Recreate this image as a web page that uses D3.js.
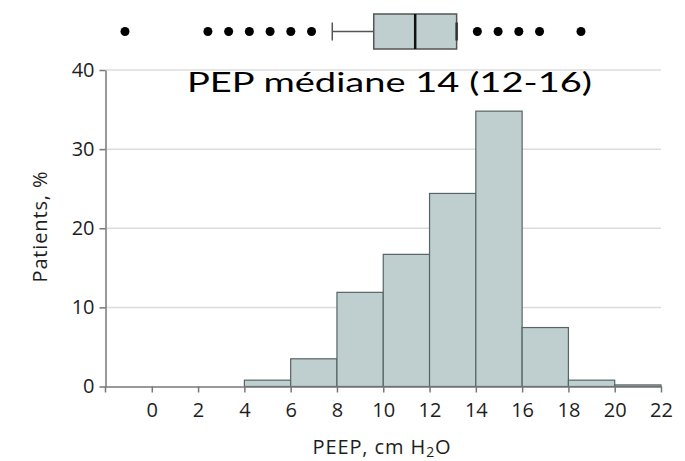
<!DOCTYPE html>
<html>
<head>
<meta charset="utf-8">
<script src="https://cdn.jsdelivr.net/npm/d3@7"></script>
<style>
  body { margin: 0; background: #fff; }
  svg { display: block; font-family: "Open Sans", sans-serif; }
</style>
</head>
<body>
<div id="chart"></div>
<script>
// histogram bins (PEEP, cm H2O) and percentage of patients
var binStarts = [4, 6, 8, 10, 12, 14, 16, 18, 20];
var binWidth = 2;
var percents = [0.8, 3.5, 11.9, 16.7, 24.4, 34.8, 7.45, 0.8, 0.2];
var xTicks = [0, 2, 4, 6, 8, 10, 12, 14, 16, 18, 20, 22];
var yTicks = [0, 10, 20, 30, 40];

// box plot summary drawn above the chart
var boxLow = 10, boxQ1 = 12, boxMedian = 14, boxQ3 = 16, boxHigh = 16;
var outliers = [0, 4, 5, 6, 7, 8, 9, 17, 18, 19, 20, 22];

var title = "PEP médiane 14 (12-16)";

var width = 685, height = 461;

var svg = d3.select("#chart")
  .append("svg")
    .attr("width", width)
    .attr("height", height);

var x = d3.scaleLinear()
    .domain([-2, 22])
    .range([105.5, 661]);

var y = d3.scaleLinear()
    .domain([0, 40])
    .range([386.5, 70]);

// grid
svg.append("g")
    .attr("class", "grid")
  .selectAll("line")
    .data(yTicks.filter(d => d > 0))
  .enter().append("line")
    .attr("x1", x(-2))
    .attr("x2", x(22))
    .attr("y1", d => y(d))
    .attr("y2", d => y(d))
    .style("stroke", "#dcdcdc")
    .style("stroke-width", 1.5);

// bars
svg.append("g")
    .attr("class", "bars")
  .selectAll("rect")
    .data(binStarts)
  .enter().append("rect")
    .attr("x", d => x(d))
    .attr("width", d => x(d + binWidth) - x(d))
    .attr("y", (d, i) => y(percents[i]))
    .attr("height", (d, i) => y(0) - y(percents[i]))
    .style("fill", "#bfcfcf")
    .style("stroke", "#566463")
    .style("stroke-width", 1.2);

// axes
svg.append("g")
    .attr("class", "axis axis-x")
    .attr("transform", `translate(0,${y(0)})`)
    .call(d3.axisBottom(x).tickValues(xTicks).tickSize(6).tickPadding(10).tickSizeOuter(0));

var yAxis = svg.append("g")
    .attr("class", "axis axis-y")
    .attr("transform", `translate(${x(-2)},0)`)
    .call(d3.axisLeft(y).tickValues(yTicks).tickSize(6).tickPadding(5).tickSizeOuter(0));

// y axis runs a little below zero
yAxis.append("line")
    .attr("y1", y(0))
    .attr("y2", y(0) + 6);

svg.selectAll(".axis path, .axis line")
    .style("stroke", "#777")
    .style("stroke-width", 1.5);
svg.selectAll(".axis text")
    .style("font-family", "'Open Sans', sans-serif")
    .style("font-size", "20px")
    .style("fill", "#1e1e1e");

// axis titles
svg.append("text")
    .attr("transform", `translate(47,227) rotate(-90)`)
    .attr("text-anchor", "middle")
    .attr("textLength", 111)
    .style("font-size", "20px")
    .style("fill", "#1e1e1e")
    .text("Patients, %");

var xt = svg.append("text")
    .attr("x", 382)
    .attr("y", 454)
    .attr("text-anchor", "middle")
    .style("font-size", "20px")
    .style("letter-spacing", "0.9px")
    .style("fill", "#1e1e1e");
xt.append("tspan").text("PEEP, cm H");
xt.append("tspan").attr("dy", 3).style("font-size", "14px").text("2");
xt.append("tspan").attr("dy", -3).text("O");

// title
svg.append("text")
    .attr("x", 187)
    .attr("y", 92)
    .attr("textLength", 405)
    .attr("lengthAdjust", "spacingAndGlyphs")
    .style("font-family", "Lato, sans-serif")
    .style("font-size", "27px")
    .style("fill", "#000")
    .text(title);

// box plot on its own scale
var bx = d3.scaleLinear()
    .domain([0, 22])
    .range([125, 581]);
var by = 31.5, boxH = 35;

var box = svg.append("g").attr("class", "boxplot");

box.append("line")
    .attr("x1", bx(boxLow))
    .attr("x2", bx(boxQ1))
    .attr("y1", by)
    .attr("y2", by)
    .style("stroke", "#555")
    .style("stroke-width", 1.5);

box.append("line")
    .attr("x1", bx(boxLow))
    .attr("x2", bx(boxLow))
    .attr("y1", by - 9)
    .attr("y2", by + 9)
    .style("stroke", "#555")
    .style("stroke-width", 1.5);

box.append("rect")
    .attr("x", bx(boxQ1))
    .attr("width", bx(boxQ3) - bx(boxQ1))
    .attr("y", by - boxH / 2)
    .attr("height", boxH)
    .style("fill", "#bfcfcf")
    .style("stroke", "#555")
    .style("stroke-width", 1.5);

box.append("line")
    .attr("x1", bx(boxHigh))
    .attr("x2", bx(boxHigh))
    .attr("y1", by - 9)
    .attr("y2", by + 9)
    .style("stroke", "#333")
    .style("stroke-width", 2.5);

box.append("line")
    .attr("x1", bx(boxMedian))
    .attr("x2", bx(boxMedian))
    .attr("y1", by - boxH / 2)
    .attr("y2", by + boxH / 2)
    .style("stroke", "#111")
    .style("stroke-width", 2.5);

box.selectAll("circle")
    .data(outliers)
  .enter().append("circle")
    .attr("cx", d => bx(d))
    .attr("cy", by)
    .attr("r", 4.5)
    .style("fill", "#000");
</script>
</body>
</html>
